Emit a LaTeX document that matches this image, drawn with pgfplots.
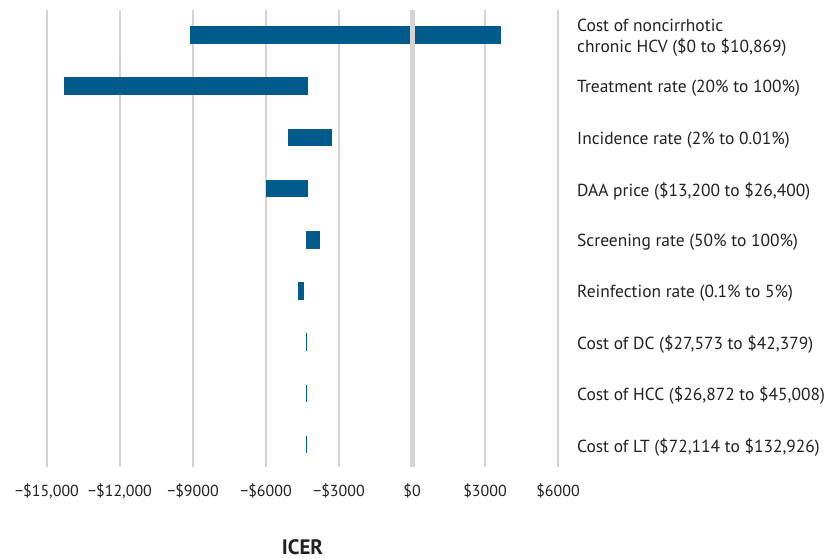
\documentclass[border=0pt]{standalone}
\usepackage{fontspec}
\setmainfont{PT Sans}
\usepackage{pgfplots}
\pgfplotsset{compat=1.18}
\definecolor{barblue}{RGB}{0,90,140}
\definecolor{gridgray}{RGB}{212,212,212}
\definecolor{zerogray}{RGB}{212,212,214}
\definecolor{txt}{RGB}{35,31,32}
\pgfplotsset{barline/.style={barblue, line width=17.5bp, line cap=butt}}
\begin{document}
\begin{tikzpicture}
\useasboundingbox (-47bp,-92bp) rectangle (792bp,467bp);
\begin{axis}[
  at={(0,0)}, anchor=south west,
  scale only axis, width=511bp, height=457bp,
  xmin=-15000, xmax=6000, ymin=0.512, ymax=9.4375, y dir=reverse,
  scaled x ticks=false,
  axis line style={draw=none},
  tick style={draw=none},
  xtick={-15000,-12000,-9000,-6000,-3000,0,3000,6000},
  xticklabels={{−\$15,000},{−\$12,000},{−\$9000},{−\$6000},{−\$3000},{\$0},{\$3000},{\$6000}},
  xticklabel style={anchor=base, yshift=-29bp, inner sep=0pt, font=\fontsize{16}{18}\selectfont, text=txt},
  xmajorgrids, grid style={gridgray, line width=1.3bp},
  ytick={1,2,3,4,5,6,7,8,9},
  yticklabels={{Cost of noncirrhotic\\chronic HCV (\$0 to \$10,869)},
    {Treatment rate (20\% to 100\%)},
    {Incidence rate (2\% to 0.01\%)},
    {DAA price (\$13,200 to \$26,400)},
    {Screening rate (50\% to 100\%)},
    {Reinfection rate (0.1\% to 5\%)},
    {Cost of DC (\$27,573 to \$42,379)},
    {Cost of HCC (\$26,872 to \$45,008)},
    {Cost of LT (\$72,114 to \$132,926)}},
  yticklabel pos=right,
  yticklabel style={anchor=west, align=left, inner sep=0pt, xshift=19bp, yshift=-2.5bp, font=\fontsize{17.5}{21}\selectfont, text=txt},
  xlabel={ICER},
  xlabel style={at={(axis description cs:0.5,0)}, anchor=base, inner sep=0pt, yshift=-87.5bp, font=\bfseries\fontsize{21}{22}\selectfont, text=txt},
]
\addplot[barline] coordinates {(-9124,1) (3658,1)};
\addplot[barline] coordinates {(-14316,2) (-4275,2)};
\addplot[barline] coordinates {(-5096,3) (-3288,3)};
\addplot[barline] coordinates {(-6009,4) (-4275,4)};
\addplot[barline] coordinates {(-4361,5) (-3786,5)};
\addplot[barline] coordinates {(-4685,6) (-4435,6)};
\addplot[barline] coordinates {(-4369,7) (-4303,7)};
\addplot[barline] coordinates {(-4369,8) (-4303,8)};
\addplot[barline] coordinates {(-4369,9) (-4303,9)};
\addplot[zerogray, line width=5bp] coordinates {(0,0.512) (0,9.4375)};
\end{axis}
\end{tikzpicture}
\end{document}
